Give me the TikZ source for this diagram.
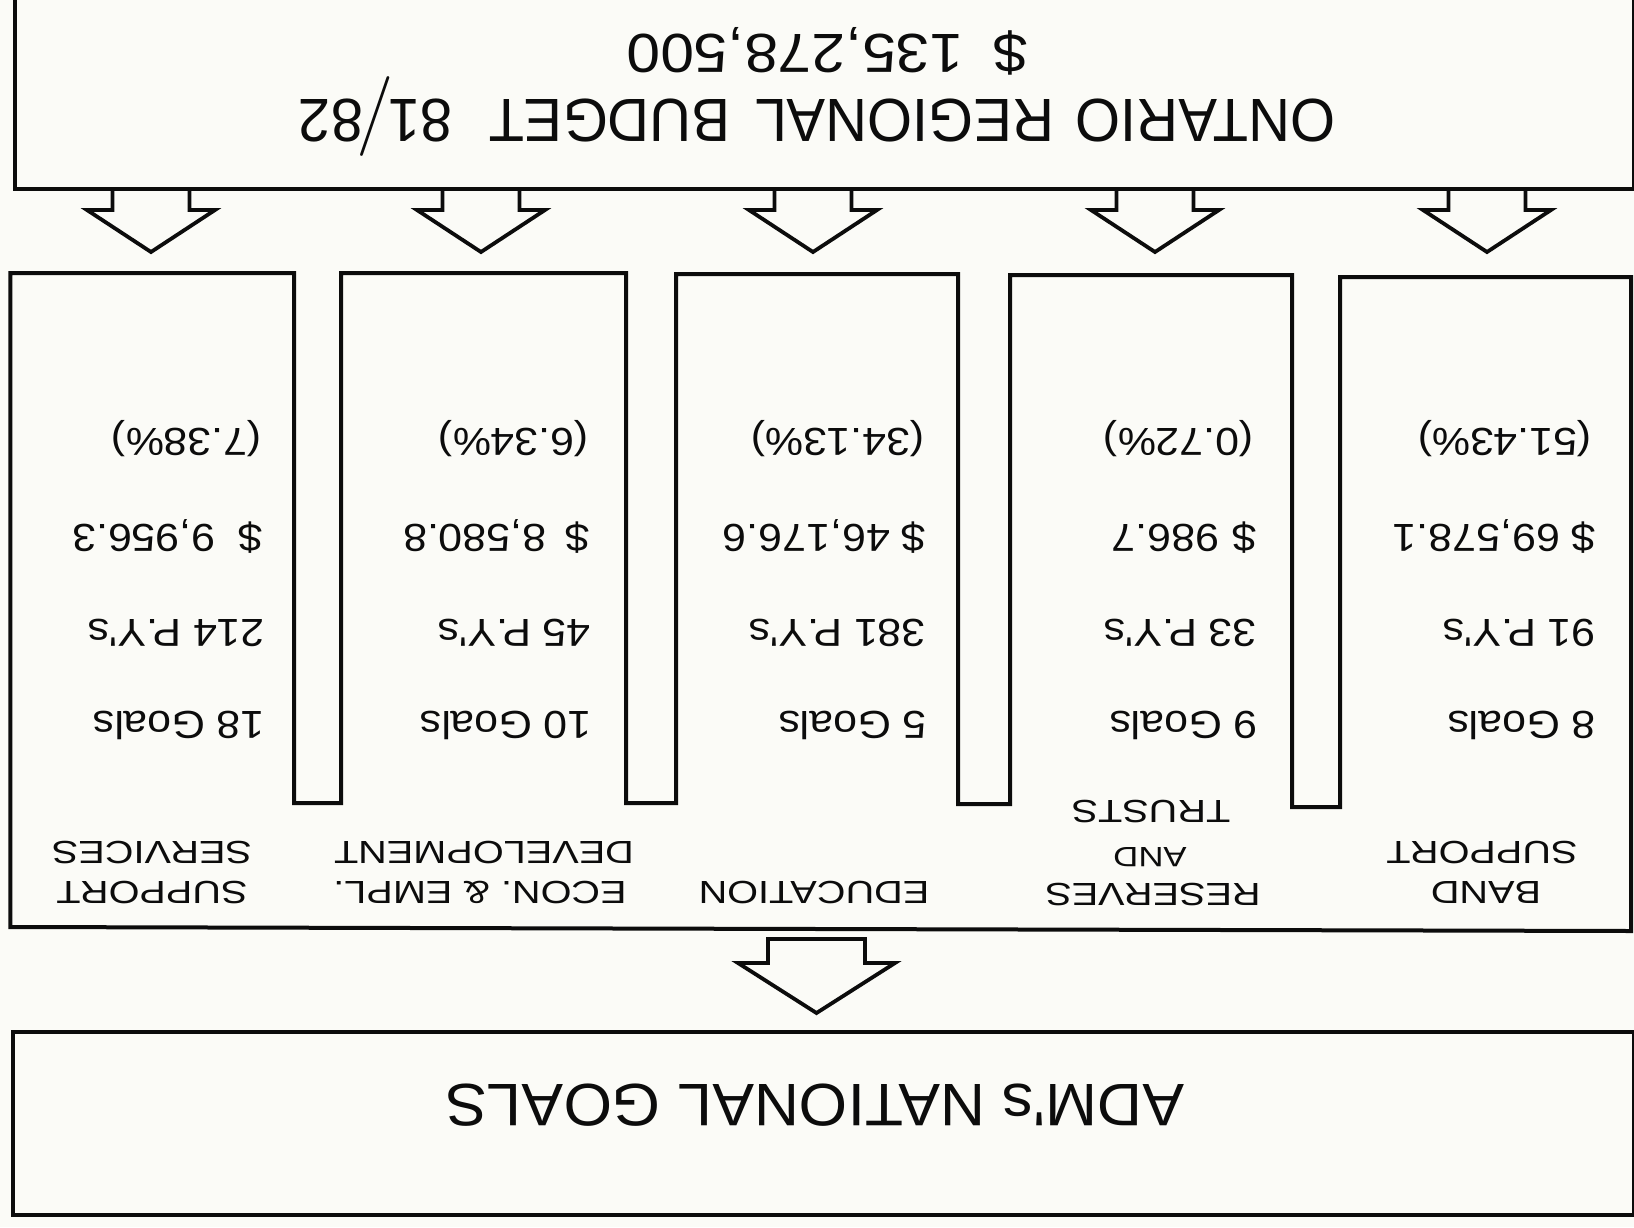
\documentclass[tikz,border=0pt]{standalone}
\usepackage{fontspec}
\setmainfont{Liberation Sans}
\newfontfamily\titlefont[FakeStretch=0.95]{Liberation Sans}
\newfontfamily\amtfont[FakeStretch=1.1]{Liberation Sans}
\newfontfamily\valfont[FakeStretch=1.1]{Liberation Sans}
\newfontfamily\labfont[FakeStretch=1.24]{Liberation Sans}
\newfontfamily\admfont[FakeStretch=1.04]{Liberation Sans}
\newfontfamily\slashfont{Latin Modern Roman}
\definecolor{paper}{RGB}{251,251,247}
\definecolor{ink}{RGB}{12,12,12}
\begin{document}
\begin{tikzpicture}[x=1pt,y=-1pt,
  boxline/.style={draw=ink, line width=4pt},
  arrowline/.style={draw=ink, line width=3.8pt, line join=miter},
  txt/.style={rotate=180, inner sep=0pt, text=ink},
  val/.style={txt, anchor=base west, font=\valfont\fontsize{39}{39}\selectfont},
  lab/.style={txt, anchor=base, font=\labfont\fontsize{32}{32}\selectfont},
]
\fill[paper] (0,0) rectangle (1634,1227);
\useasboundingbox (0,0) rectangle (1634,1227);

% top box
\node[boxline, anchor=south west, minimum width=1619.5pt, minimum height=200pt, inner sep=0pt] (budget) at (12.5,191) {};
\node[txt, anchor=base, font=\titlefont\fontsize{61}{61}\selectfont] (title) at (817,99)
  {ONTARIO\hspace{0.35em}REGIONAL\hspace{0.4em}BUDGET\hspace{0.6em}81\kern-6pt\raisebox{-3pt}{\slashfont\fontsize{80}{80}\selectfont /}\kern-6pt 82};
\node[txt, anchor=base, font=\amtfont\fontsize{55}{55}\selectfont] (amount) at (827,34) {\$\hspace{0.55em}135,278,500};

% top arrows
\foreach \c in {151,481,813,1155,1487}{
  \draw[arrowline] (\c-38.5,191) -- (\c-38.5,210) -- (\c-64,210) -- (\c,252) -- (\c+64,210) -- (\c+38.5,210) -- (\c+38.5,191);
}

% column outline
\draw[boxline, line join=miter] (10.4,273) -- (294,273) -- (294,803) -- (341,803) -- (341,273) -- (626,273) -- (626,803)
  -- (676,803) -- (676,274) -- (958,274) -- (958,804) -- (1010,804) -- (1010,275) -- (1292,275) -- (1292,807)
  -- (1340,807) -- (1340,277) -- (1631,277) -- (1631,931) -- (10.4,927) -- cycle;

% column values
\node[val] (p1) at (262,428) {(7.38\%)};
\node[val] (d1) at (263,524) {\$\hspace{0.6em}9,956.3};
\node[val] (y1) at (265,619) {214 P.Y's};
\node[val] (g1) at (265,711) {18 Goals};

\node[val] (p2) at (589,428) {(6.34\%)};
\node[val] (d2) at (590,524) {\$\hspace{0.5em}8,580.8};
\node[val] (y2) at (591,619) {45 P.Y's};
\node[val] (g2) at (592,711) {10 Goals};

\node[val] (p3) at (925,428) {(34.13\%)};
\node[val] (d3) at (926,524) {\$ 46,176.6};
\node[val] (y3) at (926,619) {381 P.Y's};
\node[val] (g3) at (927,711) {5 Goals};

\node[val] (p4) at (1254,428) {(0.72\%)};
\node[val] (d4) at (1257,524) {\$\hspace{0.35em}986.7};
\node[val] (y4) at (1257,619) {33 P.Y's};
\node[val] (g4) at (1258,711) {9 Goals};

\node[val] (p5) at (1592,428) {(51.43\%)};
\node[val] (d5) at (1596,524) {\$ 69,578.1};
\node[val] (y5) at (1596,619) {91 P.Y's};
\node[val] (g5) at (1596,711) {8 Goals};

% column labels
\node[lab] (l1a) at (152,881) {SUPPORT};
\node[lab] (l1b) at (152,841) {SERVICES};
\node[lab] (l2a) at (480,881) {ECON. \& EMPL.};
\node[lab] (l2b) at (484,841) {DEVELOPMENT};
\node[lab] (l3a) at (814,881) {EDUCATION};
\node[lab] (l4a) at (1153,883) {RESERVES};
\node[lab, font=\labfont\fontsize{28}{28}\selectfont] (l4b) at (1150,847) {AND};
\node[lab] (l4c) at (1151,800) {TRUSTS};
\node[lab] (l5a) at (1486,881) {BAND};
\node[lab] (l5b) at (1482,841) {SUPPORT};

% bottom arrow
\draw[arrowline] (768,939) -- (865,939) -- (865,963) -- (895,963) -- (816.5,1013) -- (738,963) -- (768,963) -- cycle;

% bottom box
\node[boxline, anchor=north west, minimum width=1621pt, minimum height=183pt, inner sep=0pt] (goals) at (11,1030) {};
\node[txt, anchor=base, font=\admfont\fontsize{60}{60}\selectfont] (admtext) at (815,1084) {ADM's NATIONAL GOALS};
\end{tikzpicture}
\end{document}
